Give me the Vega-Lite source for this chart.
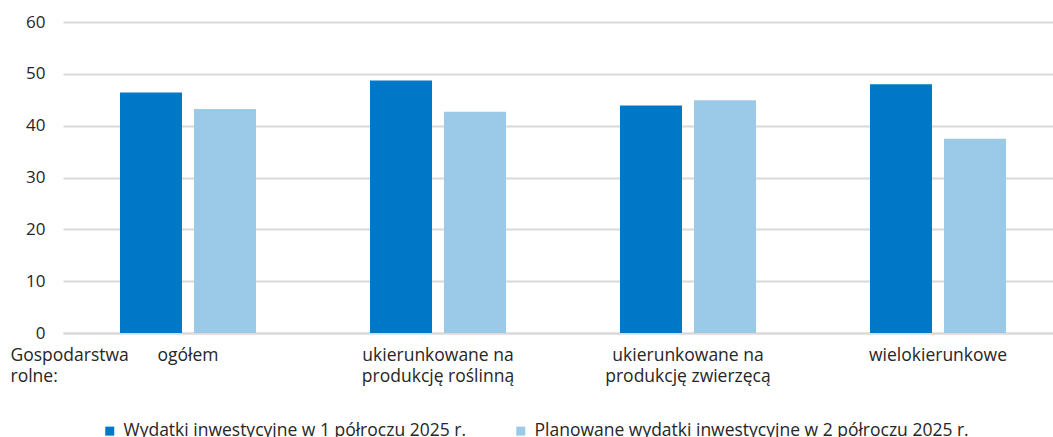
{
  "$schema": "https://vega.github.io/schema/vega-lite/v6.json",
  "autosize": "none",
  "width": 990,
  "height": 311,
  "padding": {"left": 63, "top": 22, "right": 0, "bottom": 104},
  "background": "white",
  "config": {
    "view": {"stroke": null},
    "font": "Open Sans",
    "axis": {"labelFont": "Open Sans", "titleFont": "Open Sans", "labelColor": "#262626", "titleColor": "#262626"}
  },
  "data": {
    "values": [
      {"category": "ogółem", "series": "Wydatki inwestycyjne w 1 półroczu 2025 r.", "value": 46.4},
      {"category": "ogółem", "series": "Planowane wydatki inwestycyjne w 2 półroczu 2025 r.", "value": 43.2},
      {"category": "ukierunkowane na|produkcję roślinną", "series": "Wydatki inwestycyjne w 1 półroczu 2025 r.", "value": 48.7},
      {"category": "ukierunkowane na|produkcję roślinną", "series": "Planowane wydatki inwestycyjne w 2 półroczu 2025 r.", "value": 42.7},
      {"category": "ukierunkowane na|produkcję zwierzęcą", "series": "Wydatki inwestycyjne w 1 półroczu 2025 r.", "value": 43.9},
      {"category": "ukierunkowane na|produkcję zwierzęcą", "series": "Planowane wydatki inwestycyjne w 2 półroczu 2025 r.", "value": 44.9},
      {"category": "wielokierunkowe", "series": "Wydatki inwestycyjne w 1 półroczu 2025 r.", "value": 48.0},
      {"category": "wielokierunkowe", "series": "Planowane wydatki inwestycyjne w 2 półroczu 2025 r.", "value": 37.5}
    ]
  },
  "mark": {"type": "bar"},
  "encoding": {
    "x": {
      "field": "category",
      "type": "nominal",
      "sort": null,
      "scale": {"paddingInner": 0.456, "paddingOuter": 0.208, "align": 0.548},
      "axis": {
        "title": ["Gospodarstwa", "rolne:"],
        "titleX": -53,
        "titleY": 13,
        "titleAlign": "left",
        "titleBaseline": "top",
        "titleAnchor": null,
        "titleFontSize": 17.5,
        "titleFontWeight": "normal",
        "titleLineHeight": 21.5,
        "labelExpr": "split(datum.label, '|')",
        "labelAngle": 0,
        "labelFontSize": 17.5,
        "labelLineHeight": 21.5,
        "labelBaseline": "top",
        "labelPadding": 13,
        "ticks": false,
        "domainColor": "#D9D9D9",
        "domainWidth": 2,
        "grid": false
      }
    },
    "xOffset": {
      "field": "series",
      "type": "nominal",
      "sort": null,
      "scale": {"paddingInner": 0.162, "paddingOuter": 0}
    },
    "y": {
      "field": "value",
      "type": "quantitative",
      "scale": {"domain": [0, 60]},
      "axis": {
        "title": null,
        "values": [0, 10, 20, 30, 40, 50, 60],
        "labelFontSize": 17,
        "labelPadding": 18,
        "ticks": false,
        "domain": false,
        "gridColor": "#D9D9D9",
        "gridWidth": 2
      }
    },
    "color": {
      "field": "series",
      "type": "nominal",
      "sort": null,
      "scale": {"range": ["#0078C8", "#9BCAE9"]},
      "legend": {
        "title": null,
        "orient": "none",
        "direction": "horizontal",
        "legendX": 38,
        "legendY": 400,
        "symbolType": "square",
        "symbolSize": 81,
        "symbolStrokeWidth": 0,
        "labelFontSize": 17.5,
        "labelFont": "Open Sans",
        "labelColor": "#262626",
        "labelOffset": 5,
        "columnPadding": 46,
        "labelLimit": 600
      }
    }
  }
}
